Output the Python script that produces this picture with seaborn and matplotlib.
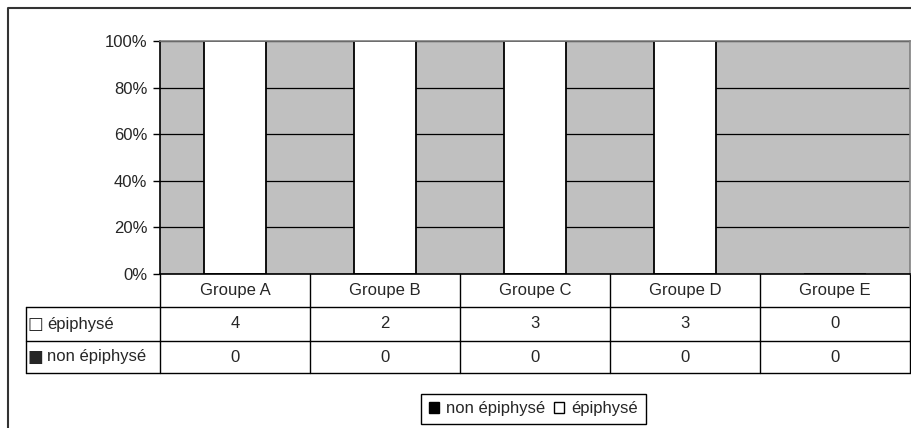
import numpy as np
import pandas as pd
import matplotlib.pyplot as plt
import seaborn as sns
from matplotlib.patches import Patch
from matplotlib.lines import Line2D
from matplotlib.ticker import PercentFormatter

# data
groups = ['Groupe A', 'Groupe B', 'Groupe C', 'Groupe D', 'Groupe E']
epiphyse = [4, 2, 3, 3, 0]
non_epiphyse = [0, 0, 0, 0, 0]
y_ticks = [0, 0.2, 0.4, 0.6, 0.8, 1.0]
row_labels = ['épiphysé', 'non épiphysé']
row_symbols = ['\u25a1', '\u25a0']

sns.set_style('white')
plt.rcParams['font.family'] = ['Liberation Sans', 'DejaVu Sans']
FS = 12

df = pd.DataFrame({'groupe': groups, 'epi': epiphyse, 'non': non_epiphyse})
total = (df['epi'] + df['non']).replace(0, np.nan)
df['pct_total'] = (total / total).fillna(0)
df['pct_non'] = (df['non'] / total).fillna(0)

W, H = 912, 428
fig = plt.figure(figsize=(W / 100, H / 100), dpi=100)
ax = fig.add_axes([160 / W, 1 - 274 / H, 750 / W, 233 / H])
ax.set_facecolor('#c0c0c0')
ax.set_axisbelow(True)
ax.yaxis.grid(True, color='black', lw=0.9)

# 100% stacked: white full bar, black share drawn over it
sns.barplot(data=df, x='groupe', y='pct_total', color='white', saturation=1,
            edgecolor='black', linewidth=1.3, width=0.41, errorbar=None, ax=ax)
sns.barplot(data=df[df['pct_non'] > 0], x='groupe', y='pct_non', color='black',
            saturation=1, edgecolor='black', linewidth=1.3, width=0.41,
            errorbar=None, order=groups, ax=ax)

ax.set_xlim(-0.5, len(groups) - 0.5)
ax.set_ylim(0, 1)
ax.set_yticks(y_ticks)
ax.yaxis.set_major_formatter(PercentFormatter(1.0, decimals=0))
ax.tick_params(axis='y', left=True, length=5, width=1, color='black',
               labelsize=FS, pad=4)
ax.tick_params(axis='x', bottom=False, labelbottom=False)
ax.set_xlabel('')
ax.set_ylabel('')
for side in ['left', 'bottom']:
    ax.spines[side].set_color('black')
    ax.spines[side].set_linewidth(1.2)
for side in ['top', 'right']:
    ax.spines[side].set_color('#808080')
    ax.spines[side].set_linewidth(1.2)

# data table under the plot
tr = ax.get_xaxis_transform()
h = [0, -33 / 233, -67 / 233, -99 / 233]
x_left = -0.5 - 134 / 150
n = len(groups)
line_kw = dict(color='black', lw=1, transform=tr, clip_on=False)
for i in range(n + 1):
    ax.add_line(Line2D([i - 0.5, i - 0.5], [h[0], h[3]], **line_kw))
ax.add_line(Line2D([x_left, x_left], [h[1], h[3]], **line_kw))
for y in h[1:]:
    ax.add_line(Line2D([x_left, n - 0.5], [y, y], **line_kw))

for i, g in enumerate(groups):
    ax.text(i, (h[0] + h[1]) / 2, g, ha='center', va='center', fontsize=FS, transform=tr)
    ax.text(i, (h[1] + h[2]) / 2, str(epiphyse[i]), ha='center', va='center',
            fontsize=FS, transform=tr)
    ax.text(i, (h[2] + h[3]) / 2, str(non_epiphyse[i]), ha='center', va='center',
            fontsize=FS, transform=tr)
for k, (sym, lab) in enumerate(zip(row_symbols, row_labels)):
    yc = (h[k + 1] + h[k + 2]) / 2
    ax.text(x_left + 1.5 / 150, yc, sym, ha='left', va='center', fontsize=FS,
            family='DejaVu Sans', transform=tr)
    ax.text(x_left + 21 / 150, yc, lab, ha='left', va='center', fontsize=FS,
            transform=tr)

# legend
handles = [Patch(facecolor='black', edgecolor='black', label='non épiphysé'),
           Patch(facecolor='white', edgecolor='black', label='épiphysé')]
leg = fig.legend(handles=handles, ncol=2, loc='center',
                 bbox_to_anchor=(533.5 / W, 1 - 409 / H), frameon=True,
                 fancybox=False, shadow=False, framealpha=1, edgecolor='black',
                 handlelength=0.6, handleheight=0.6, handletextpad=0.45,
                 columnspacing=0.5, borderpad=0.45, fontsize=FS)
leg.get_frame().set_linewidth(1)

# outer chart frame (runs off the right and bottom of the image)
fig.add_artist(Line2D([8 / W, 8 / W, 1], [0, 1 - 8 / H, 1 - 8 / H],
                      color='#333333', lw=1.5, transform=fig.transFigure))

fig.savefig('out.png', dpi=100)
